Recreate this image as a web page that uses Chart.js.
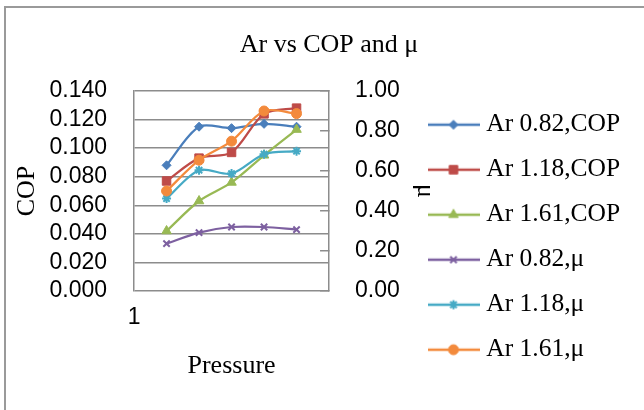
<!DOCTYPE html>
<html><head><meta charset="utf-8">
<script src="https://cdn.jsdelivr.net/npm/chart.js@4"></script>
<style>
html,body{margin:0;padding:0;background:#fff;overflow:hidden}
#wrap{position:relative;width:644px;height:410px;overflow:hidden}
#frame{position:absolute;left:4px;top:6px;width:700px;height:500px;border:2px solid #9a9a9a;box-sizing:border-box}
canvas{position:absolute;left:0;top:0}
</style></head><body>
<div id="wrap"><div id="frame"></div><canvas id="c" width="644" height="410"></canvas></div>
<script>
// ---- data ----
const chartTitle = 'Ar vs COP and μ';
const xTitle = 'Pressure';
const yTitle = 'COP';
const y1Title = 'μ';
const xPositions = [1, 2, 3, 4, 5];
const xTickLabels = ['1', '', '', '', '', '', ''];
const seriesNames = ['Ar 0.82,COP', 'Ar 1.18,COP', 'Ar 1.61,COP', 'Ar 0.82,μ', 'Ar 1.18,μ', 'Ar 1.61,μ'];
const cop082 = [0.088, 0.115, 0.114, 0.117, 0.115];
const cop118 = [0.077, 0.093, 0.097, 0.124, 0.128];
const cop161 = [0.042, 0.063, 0.076, 0.095, 0.113];
const mu082 = [0.237, 0.292, 0.320, 0.320, 0.307];
const mu118 = [0.462, 0.604, 0.587, 0.684, 0.699];
const mu161 = [0.500, 0.654, 0.749, 0.900, 0.887];
const copTicks = { min: 0, max: 0.14, step: 0.02 };
const muTicks = { min: 0, max: 1.0, step: 0.2 };

// ---- styling ----
const colors = ['#4A7EBB', '#BE4B48', '#98B954', '#7D60A0', '#46AAC5', '#F38A3C'];
const styles = ['rectRot', 'rect', 'triangle', 'crossRot', 'star', 'circle'];
const radii = [4.5, 6, 5.5, 4.5, 4.5, 5];
const axisIds = ['y', 'y', 'y', 'y1', 'y1', 'y1'];
const seriesValues = [cop082, cop118, cop161, mu082, mu118, mu161];

const serif = 'Liberation Serif';
const sans = 'Liberation Sans';
const gridColor = '#8c8c8c';

const datasets = seriesValues.map((vals, i) => ({
  label: seriesNames[i],
  data: vals.map((v, k) => ({ x: xPositions[k], y: v })),
  yAxisID: axisIds[i],
  borderColor: colors[i],
  backgroundColor: colors[i],
  pointBackgroundColor: colors[i],
  pointBorderColor: colors[i],
  pointStyle: styles[i],
  pointRadius: radii[i],
  pointBorderWidth: (styles[i] === 'crossRot' || styles[i] === 'star') ? 2 : 1,
  borderWidth: 2.25,
  tension: 0.3,
  fill: false,
  order: seriesValues.length - 1 - i
}));

function legendIcon(i) {
  const c = document.createElement('canvas');
  c.width = 52; c.height = 16;
  const ctx = c.getContext('2d');
  ctx.strokeStyle = colors[i];
  ctx.lineWidth = 2.5;
  ctx.beginPath(); ctx.moveTo(0, 8); ctx.lineTo(52, 8); ctx.stroke();
  ctx.fillStyle = colors[i];
  ctx.strokeStyle = colors[i];
  ctx.lineWidth = datasets[i].pointBorderWidth;
  Chart.helpers.drawPoint(ctx, { pointStyle: styles[i], radius: radii[i], rotation: 0, borderWidth: datasets[i].pointBorderWidth }, 26, 8);
  return c;
}
const icons = datasets.map((d, i) => legendIcon(i));

const tickFont = { family: sans, size: 23 };
const titleFont = { family: serif, size: 26, weight: 'normal' };

new Chart(document.getElementById('c'), {
  type: 'line',
  data: { datasets },
  options: {
    responsive: false,
    animation: false,
    devicePixelRatio: 1,
    layout: { padding: { left: 37, right: 23, top: 0, bottom: 28 } },
    plugins: {
      title: { display: true, text: chartTitle, font: titleFont, color: '#000', padding: { top: 29.4, bottom: 30.4 } },
      legend: {
        position: 'right', align: 'end', maxWidth: 207,
        labels: {
          font: { family: serif, size: 25.5 }, color: '#000', padding: 19.5,
          usePointStyle: true, pointStyleWidth: 40, boxHeight: 16,
          generateLabels: chart => chart.data.datasets.map((ds, i) => ({
            text: ds.label, fillStyle: ds.backgroundColor, strokeStyle: ds.borderColor,
            lineWidth: 0, pointStyle: icons[i], hidden: false, datasetIndex: i, fontColor: '#000'
          }))
        }
      },
      tooltip: { enabled: false }
    },
    scales: {
      x: {
        type: 'linear', min: 0, max: 6,
        grid: { display: false, drawTicks: false },
        border: { display: false },
        ticks: { stepSize: 1, autoSkip: false, maxRotation: 0, padding: 13.2, font: tickFont, color: '#000',
                 callback: (v, i) => xTickLabels[i] ?? '' },
        title: { display: true, text: xTitle, font: titleFont, color: '#000', padding: { top: 5.4, bottom: 0.4 } }
      },
      y: {
        position: 'left', min: copTicks.min, max: copTicks.max,
        grid: { color: gridColor, lineWidth: 1.5, drawTicks: true, tickLength: 17, tickColor: 'rgba(0,0,0,0)' },
        border: { color: gridColor, width: 1.5 },
        ticks: { stepSize: copTicks.step, autoSkip: false, padding: 10, font: tickFont, color: '#000', callback: v => v.toFixed(3) },
        title: { display: true, text: yTitle, font: titleFont, color: '#000', padding: { top: -25.6, bottom: -3.1 } }
      },
      y1: {
        position: 'right', min: muTicks.min, max: muTicks.max,
        grid: { drawOnChartArea: false, tickLength: -9, color: gridColor, lineWidth: 1.5 },
        border: { color: gridColor, width: 1.5 },
        ticks: { stepSize: muTicks.step, autoSkip: false, padding: 35, font: tickFont, color: '#000', callback: v => v.toFixed(2) },
        title: { display: true, text: y1Title, font: titleFont, color: '#000', padding: { top: -26.6, bottom: -25.4 } }
      }
    }
  }
});
</script>
</body></html>
